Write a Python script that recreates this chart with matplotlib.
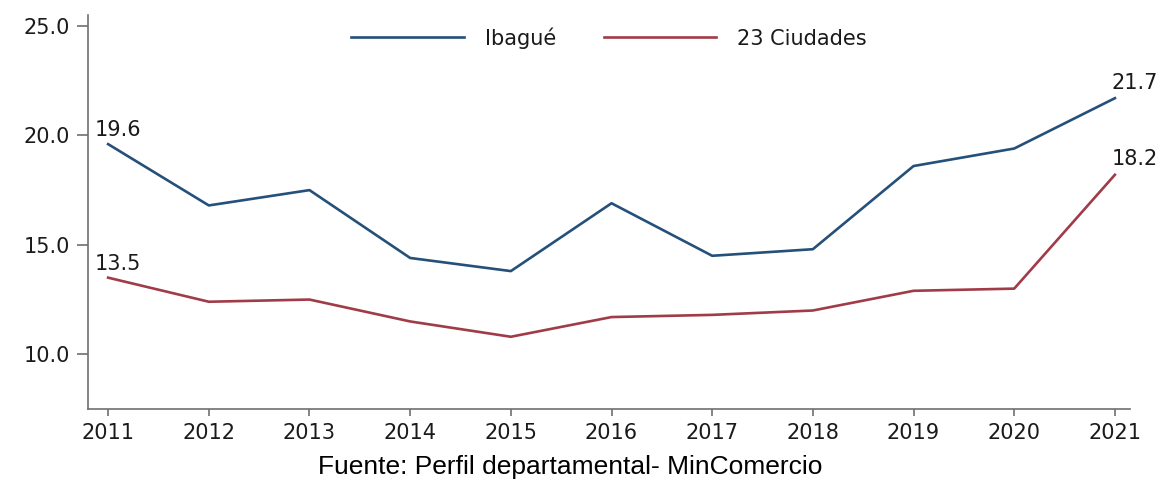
import matplotlib.pyplot as plt
import matplotlib.ticker as mticker

plt.rcParams['font.family'] = ['DejaVu Sans']

years = [2011, 2012, 2013, 2014, 2015, 2016, 2017, 2018, 2019, 2020, 2021]
ibague = [19.6, 16.8, 17.5, 14.4, 13.8, 16.9, 14.5, 14.8, 18.6, 19.4, 21.7]
ciudades = [13.5, 12.4, 12.5, 11.5, 10.8, 11.7, 11.8, 12.0, 12.9, 13.0, 18.2]
yticks = [10.0, 15.0, 20.0, 25.0]

colors = {'ibague': '#24507A', 'ciudades': '#A03C48', 'axis': '#707070', 'text': '#1A1A1A'}

fig = plt.figure(figsize=(11.56, 4.79), dpi=100)
ax = fig.add_axes([88 / 1156, 1 - 409 / 479, (1130 - 88) / 1156, (409 - 15) / 479])

ax.plot(years, ibague, color=colors['ibague'], linewidth=1.9, label='Ibagué')
ax.plot(years, ciudades, color=colors['ciudades'], linewidth=1.9, label='23 Ciudades')

ax.set_xlim(2010.8, 2021.15)
ax.set_ylim(7.5, 25.5)
ax.set_xticks(years)
ax.set_yticks(yticks)
ax.yaxis.set_major_formatter(mticker.FormatStrFormatter('%.1f'))

for side in ['top', 'right']:
    ax.spines[side].set_visible(False)
for side in ['left', 'bottom']:
    ax.spines[side].set_color(colors['axis'])
    ax.spines[side].set_linewidth(1.2)

ax.tick_params(axis='both', direction='out', color=colors['axis'], width=1.2,
               labelsize=15, labelcolor=colors['text'])
ax.tick_params(axis='x', length=5, pad=5)
ax.tick_params(axis='y', length=8, pad=5)

# end labels
for series in (ibague, ciudades):
    ax.annotate(f'{series[0]:.1f}', (years[0], series[0]), xytext=(-9.5, 3),
                textcoords='offset points', fontsize=15, ha='left', va='bottom',
                color=colors['text'])
    ax.annotate(f'{series[-1]:.1f}', (years[-1], series[-1]), xytext=(14, 4),
                textcoords='offset points', fontsize=15, ha='center', va='bottom',
                color=colors['text'])

leg = ax.legend(loc='center', bbox_to_anchor=(0.5, (409 - 38) / 394), ncol=2,
                frameon=False, fontsize=15, handlelength=5.4, handletextpad=1.0,
                columnspacing=2.3)
for t in leg.get_texts():
    t.set_color(colors['text'])

fig.text(570 / 1156, 1 - 467 / 479, 'Fuente: Perfil departamental- MinComercio',
         ha='center', va='center', fontsize=19, color='black',
         family=['Liberation Sans', 'DejaVu Sans'])

fig.savefig('out.png', dpi=100, facecolor='white')
plt.close()
